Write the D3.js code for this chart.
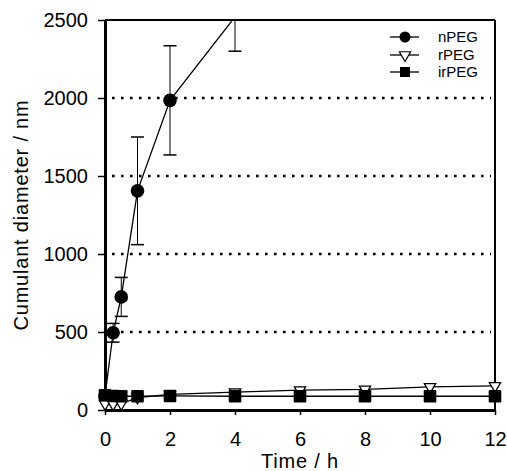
<!DOCTYPE html>
<html>
<head>
<meta charset="utf-8">
<script src="https://cdn.jsdelivr.net/npm/d3@7"></script>
<style>
body { margin: 0; background: #fff; }
svg { display: block; }
text { font-family: Arial, "Liberation Sans", sans-serif; fill: #000; }
</style>
</head>
<body>
<svg id="chart" width="507" height="471"></svg>
<script>
// ---- data ----
const nTimes = [0, 0.25, 0.5, 1, 2, 4];
const nPEG = [90, 495, 725, 1405, 1985, 2520];
const nPEGErr = [10, 60, 125, 345, 350, 220];

const rTimes = [0, 0.25, 0.5, 1, 2, 4, 6, 8, 10, 12];
const rPEG = [40, 38, 40, 80, 100, 115, 128, 132, 148, 155];

const irTimes = [0, 0.25, 0.5, 1, 2, 4, 6, 8, 10, 12];
const irPEG = [95, 90, 88, 88, 90, 88, 88, 88, 88, 88];

const xTicks = [0, 2, 4, 6, 8, 10, 12];
const yTicks = [0, 500, 1000, 1500, 2000, 2500];
const gridValues = [500, 1000, 1500, 2000];
const seriesNames = ["nPEG", "rPEG", "irPEG"];

// ---- layout ----
const svg = d3.select("#chart");
const L = 105, R = 495, T = 20, B = 410;
const x = d3.scaleLinear().domain([0, 12]).range([L, R]);
const y = d3.scaleLinear().domain([0, 2500]).range([B, T]);
const yMax = 2500;

svg.append("defs").append("clipPath").attr("id", "clipTop")
  .append("rect").attr("x", 0).attr("y", T).attr("width", 507).attr("height", 471 - T);

// gridlines (dotted)
svg.append("g").selectAll("line").data(gridValues).join("line")
  .attr("x1", L + 7).attr("x2", R - 4)
  .attr("y1", d => y(d)).attr("y2", d => y(d))
  .attr("stroke", "#000").attr("stroke-width", 2.6)
  .attr("stroke-dasharray", "2.6 6.4");

// frame top/right
svg.append("line").attr("x1", L).attr("x2", R).attr("y1", T).attr("y2", T)
  .attr("stroke", "#000").attr("stroke-width", 2);
svg.append("line").attr("x1", R).attr("x2", R).attr("y1", T).attr("y2", B)
  .attr("stroke", "#000").attr("stroke-width", 2);

// axes
const yAxis = svg.append("g").attr("transform", `translate(${L},0)`)
  .call(d3.axisLeft(y).tickValues(yTicks).tickFormat(d3.format("d"))
    .tickSize(7).tickSizeOuter(0).tickPadding(10));
yAxis.select(".domain").attr("stroke-width", 3);
yAxis.selectAll(".tick line").attr("stroke-width", 1.5);
yAxis.selectAll("text").attr("font-size", 20).style("font-family", "Arial, 'Liberation Sans', sans-serif");

const xAxis = svg.append("g").attr("transform", `translate(0,${B})`)
  .call(d3.axisBottom(x).tickValues(xTicks).tickFormat(d3.format("d"))
    .tickSize(5).tickSizeOuter(0).tickPadding(17));
xAxis.select(".domain").attr("stroke-width", 3);
xAxis.selectAll(".tick line").attr("stroke-width", 1.5);
xAxis.selectAll("text").attr("font-size", 20).style("font-family", "Arial, 'Liberation Sans', sans-serif");

// axis titles
svg.append("text").attr("x", (L + R) / 2).attr("y", 468).attr("text-anchor", "middle")
  .attr("font-size", 20).attr("letter-spacing", 0.8).text("Time / h");
svg.append("text").attr("transform", `translate(28,${(T + B) / 2}) rotate(-90)`)
  .attr("text-anchor", "middle").attr("font-size", 20).attr("letter-spacing", 0.8)
  .text("Cumulant diameter / nm");

// data group
const g = svg.append("g").attr("clip-path", "url(#clipTop)");
const line = d3.line().x(d => x(d[0])).y(d => y(d[1]));

const nData = nTimes.map((t, i) => [t, nPEG[i], nPEGErr[i]]);
const rData = rTimes.map((t, i) => [t, rPEG[i]]);
const irData = irTimes.map((t, i) => [t, irPEG[i]]);

// nPEG error bars
const eb = g.append("g");
nData.forEach(d => {
  const lo = y(d[1] - d[2]), hi = y(d[1] + d[2]);
  eb.append("line").attr("x1", x(d[0])).attr("x2", x(d[0])).attr("y1", lo).attr("y2", hi)
    .attr("stroke", "#000").attr("stroke-width", 1);
  [lo, hi].forEach(yy => {
    eb.append("line").attr("x1", x(d[0]) - 6.5).attr("x2", x(d[0]) + 6.5).attr("y1", yy).attr("y2", yy)
      .attr("stroke", "#000").attr("stroke-width", 1.5);
  });
});

// lines
[nData, rData, irData].forEach(data => {
  g.append("path").datum(data).attr("d", line)
    .attr("fill", "none").attr("stroke", "#000").attr("stroke-width", 1.3);
});

const tri = d3.symbol().type(d3.symbolTriangle).size(55);

// markers
g.append("g").selectAll("circle").data(nData.filter(d => d[1] <= yMax)).join("circle")
  .attr("cx", d => x(d[0])).attr("cy", d => y(d[1])).attr("r", 6.8).attr("fill", "#000");

g.append("g").selectAll("path").data(rData.filter(d => d[1] <= yMax)).join("path")
  .attr("d", tri).attr("transform", d => `translate(${x(d[0])},${y(d[1])}) rotate(180)`)
  .attr("fill", "#fff").attr("stroke", "#000").attr("stroke-width", 1.3);

g.append("g").selectAll("rect").data(irData.filter(d => d[1] <= yMax)).join("rect")
  .attr("x", d => x(d[0]) - 6.3).attr("y", d => y(d[1]) - 6.3)
  .attr("width", 12.6).attr("height", 12.6).attr("rx", 1).attr("fill", "#000");

// legend
const lg = svg.append("g");
const rows = [37, 55, 72];
seriesNames.forEach((name, i) => {
  const yy = rows[i];
  lg.append("line").attr("x1", 390).attr("x2", 419).attr("y1", yy).attr("y2", yy)
    .attr("stroke", "#000").attr("stroke-width", 1.3);
  if (i === 0) {
    lg.append("circle").attr("cx", 405).attr("cy", yy).attr("r", 5.5).attr("fill", "#000");
  } else if (i === 1) {
    lg.append("path").attr("d", tri).attr("transform", `translate(405,${yy}) rotate(180)`)
      .attr("fill", "#fff").attr("stroke", "#000").attr("stroke-width", 1.2);
  } else {
    lg.append("rect").attr("x", 400).attr("y", yy - 5).attr("width", 10).attr("height", 10).attr("fill", "#000");
  }
  lg.append("text").attr("x", 438).attr("y", yy + 5).attr("font-size", 15).text(name);
});
</script>
</body>
</html>
